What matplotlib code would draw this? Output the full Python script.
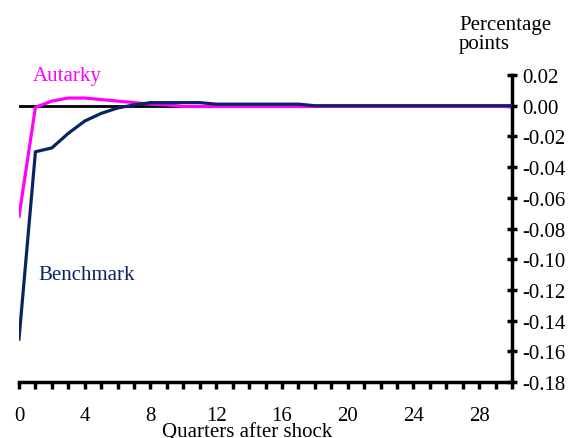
import matplotlib.pyplot as plt

quarters = list(range(0, 31))
benchmark = [-0.152, -0.030, -0.0275, -0.018, -0.010, -0.005, -0.0015, 0.0005, 0.002, 0.002,
             0.002, 0.002, 0.001, 0.001, 0.001, 0.001, 0.001, 0.001, 0.0, 0.0,
             0.0, 0.0, 0.0, 0.0, 0.0, 0.0, 0.0, 0.0, 0.0, 0.0, 0.0]
autarky = [-0.072, -0.001, 0.003, 0.005, 0.005, 0.004, 0.003, 0.002, 0.001, 0.0005,
           -0.0005, -0.0005, -0.0005, -0.0005, -0.0005, -0.0005, -0.0005, -0.0005, -0.0005, -0.0005,
           -0.0005, -0.0005, -0.0005, -0.0005, -0.0005, -0.0005, -0.0005, -0.0005, -0.0005, -0.0005,
           -0.0005]
xtick_labels = [0, 4, 8, 12, 16, 20, 24, 28]
yticks = [0.02, 0.00, -0.02, -0.04, -0.06, -0.08, -0.10, -0.12, -0.14, -0.16, -0.18]

plt.rcParams['font.family'] = 'Liberation Serif'
navy = '#0a2463'
magenta = '#ff00ff'

fig = plt.figure(figsize=(5.79, 4.39), dpi=100)
ax = fig.add_axes([19 / 579, 1 - 383 / 439, 493 / 579, 307 / 439])

ax.axhline(0, color='black', lw=2, zorder=1)
ax.plot(quarters, autarky, color=magenta, lw=2.3, zorder=2)
ax.plot(quarters, benchmark, color=navy, lw=2.3, zorder=3)

ax.set_xlim(0, 30)
ax.set_ylim(-0.18, 0.02)

for s in ['top', 'left']:
    ax.spines[s].set_visible(False)
ax.spines['bottom'].set_linewidth(2.5)
ax.spines['right'].set_linewidth(2.5)

ax.yaxis.tick_right()
ax.set_yticks(yticks)
ax.set_yticklabels(['%.2f' % v for v in yticks])
ax.tick_params(axis='y', direction='inout', length=7, width=2.5, labelsize=15, pad=4)

ax.set_xticks(quarters)
ax.set_xticklabels([str(q) if q in xtick_labels else '' for q in quarters])
ax.tick_params(axis='x', direction='out', length=5, width=2.5, labelsize=15, pad=12)

fig.text(33 / 579, 1 - 77 / 439, 'Autarky', color=magenta, fontsize=15, va='center')
fig.text(38 / 579, 1 - 275 / 439, 'Benchmark', color=navy, fontsize=15, va='center')
fig.text(459 / 579, 1 - 35 / 439, 'Percentage\npoints', fontsize=15, va='center', ha='left', linespacing=1.0)
fig.text(247 / 579, 1 - 433 / 439, 'Quarters after shock', fontsize=15, ha='center', va='center')

fig.savefig('out.png', dpi=100)
